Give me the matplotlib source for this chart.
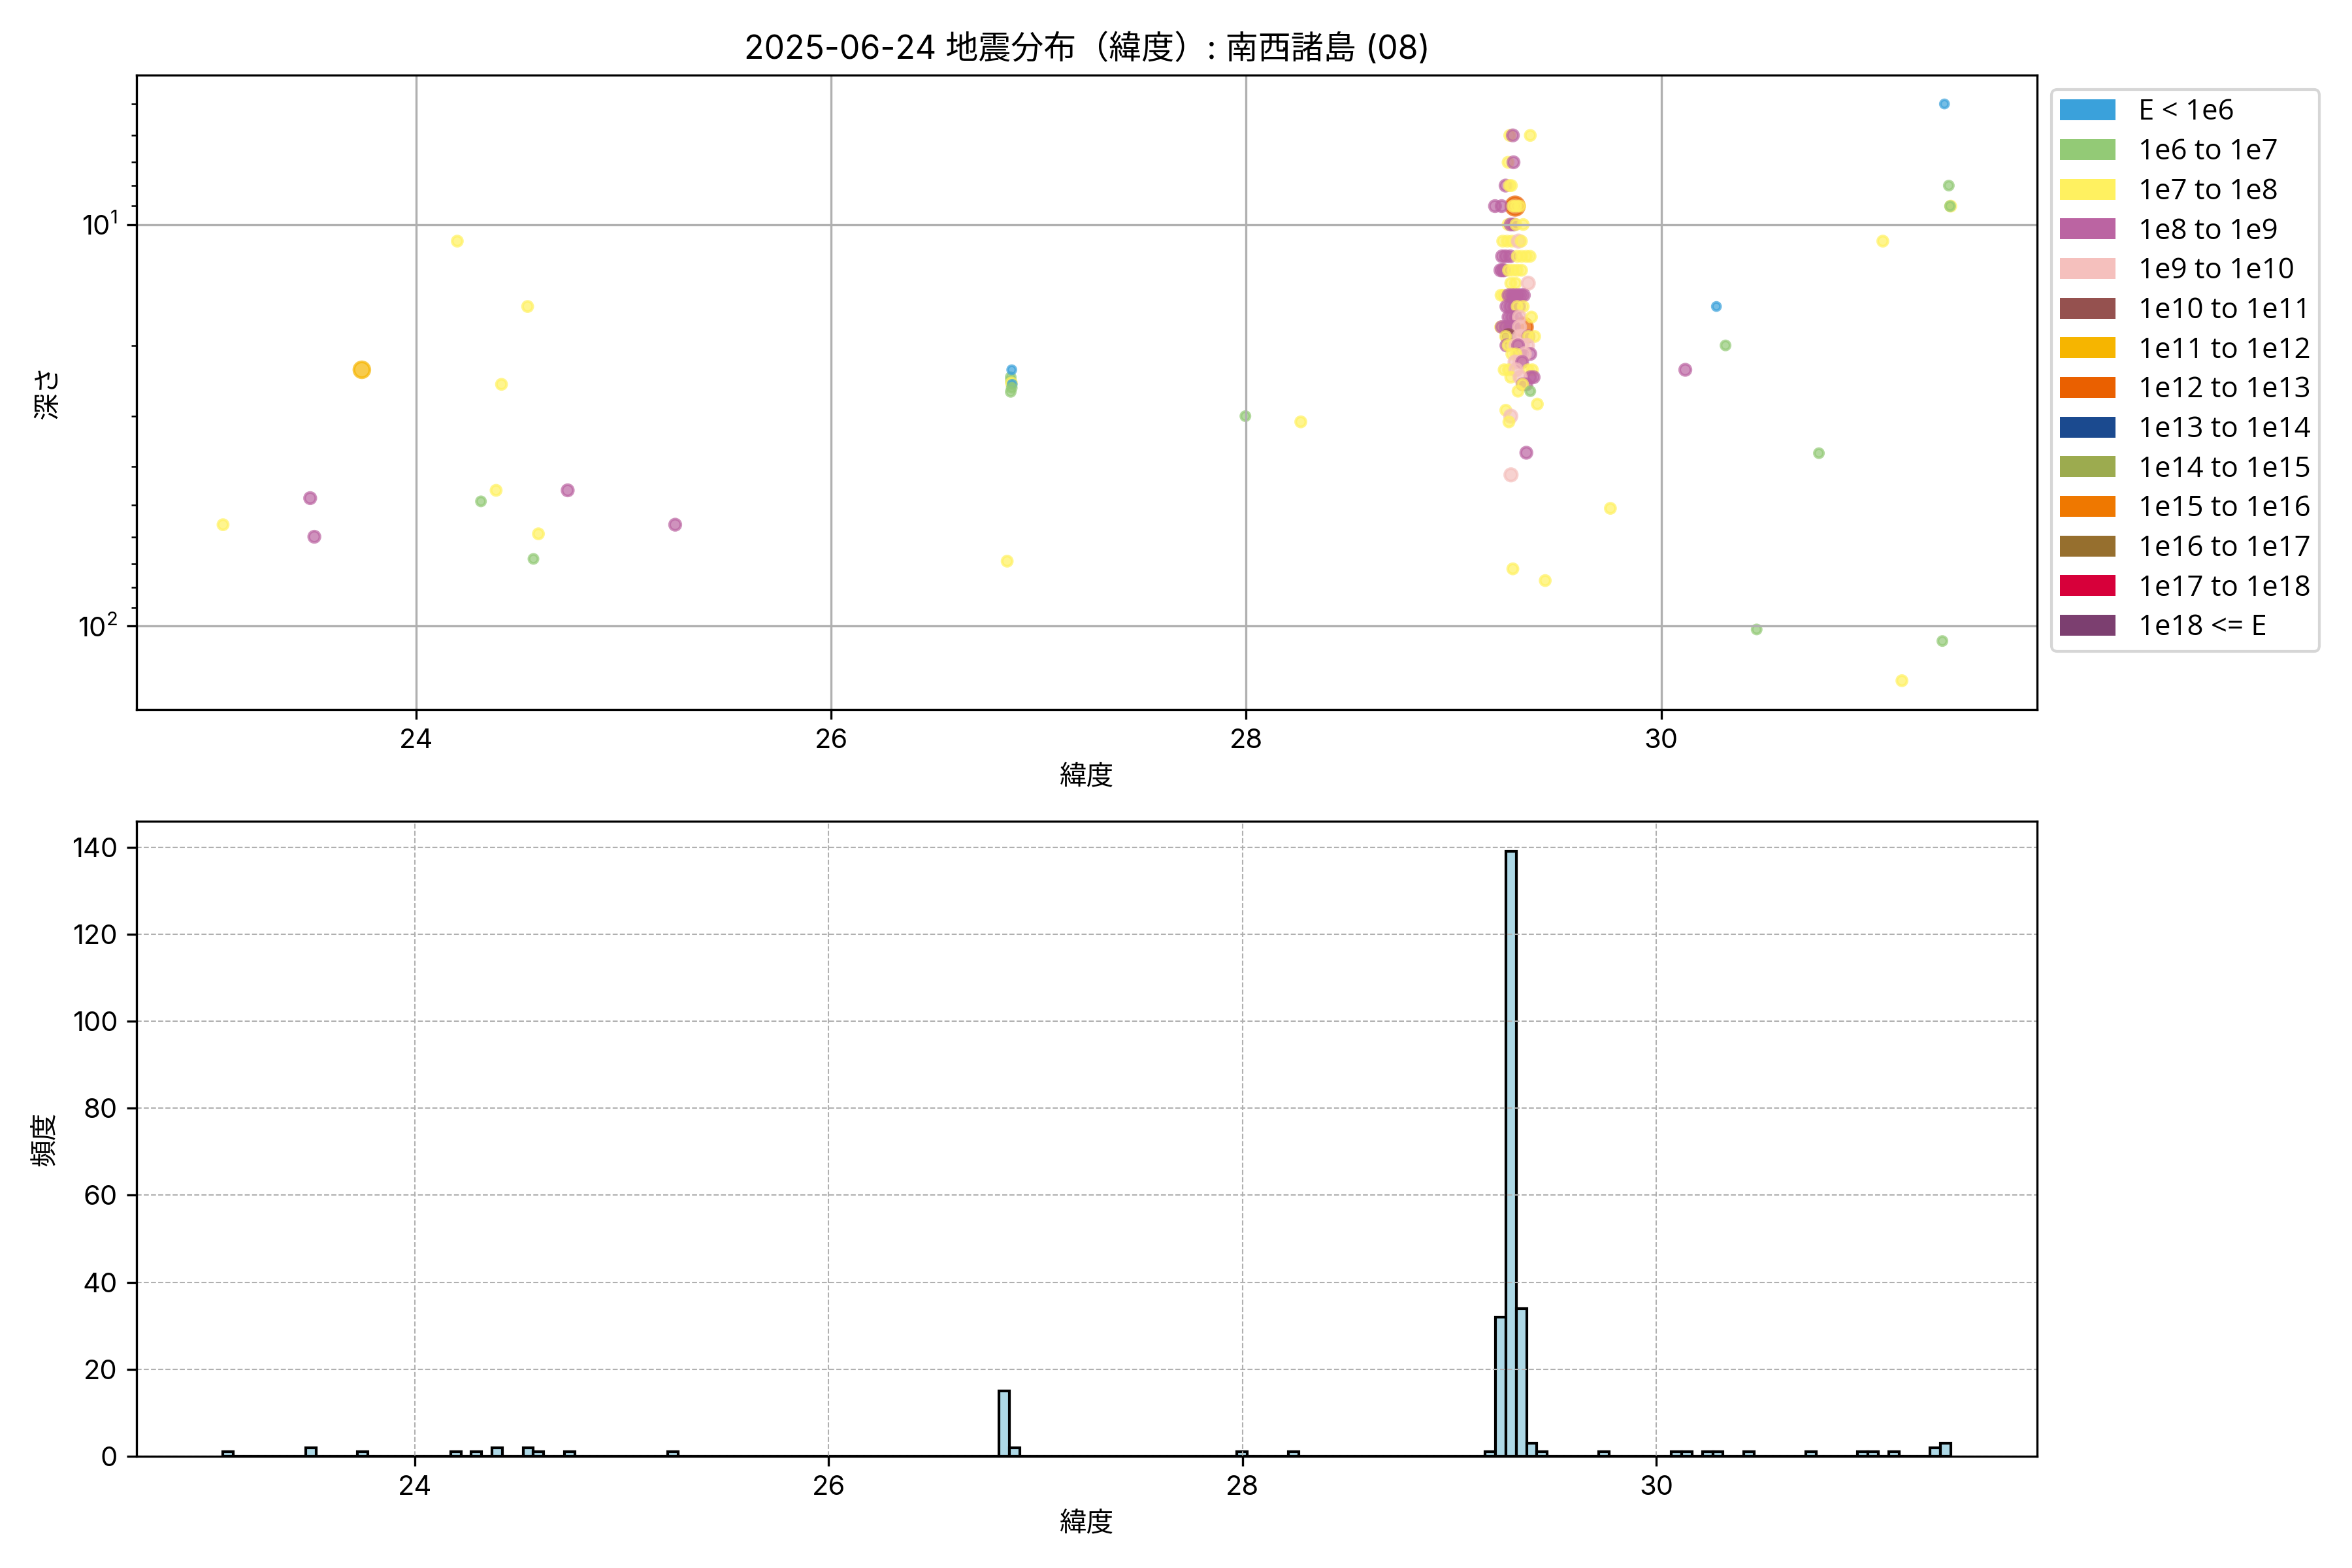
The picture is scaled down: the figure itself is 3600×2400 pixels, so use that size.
import numpy as np
import matplotlib
matplotlib.use('Agg')
import matplotlib.pyplot as plt
from matplotlib.patches import Patch

plt.rcParams['font.family'] = ['Inter', 'Noto Sans CJK JP', 'DejaVu Sans']
plt.rcParams['axes.unicode_minus'] = False

title = '2025-06-24 地震分布（緯度）: 南西諸島 (08)'
xlabel = '緯度'
ylabel_top = '深さ'
ylabel_bottom = '頻度'

class_labels = ['E < 1e6', '1e6 to 1e7', '1e7 to 1e8', '1e8 to 1e9', '1e9 to 1e10',
                '1e10 to 1e11', '1e11 to 1e12', '1e12 to 1e13', '1e13 to 1e14',
                '1e14 to 1e15', '1e15 to 1e16', '1e16 to 1e17', '1e17 to 1e18', '1e18 <= E']
class_colors = ['#3aa1db', '#93ca76', '#fff160', '#bb64a2', '#f5c0bd', '#95514f', '#f6b500',
                '#ea6000', '#1b4a8f', '#9cab4f', '#ef7800', '#966f2e', '#d7003a', '#7c3f70']
class_sizes = [9, 11, 14, 17, 21, 26, 34, 46, 55, 65, 75, 85, 95, 110]

# ---- scatter data: latitude, depth (km), energy class index ----
lat = [
    # west
    23.069, 23.489, 23.509, 23.738, 24.198, 24.537, 24.411, 24.385, 24.312, 24.730, 25.248, 24.589, 24.565,
    # 26.85 group
    26.848, 26.865, 26.870, 26.866, 26.868, 26.872, 26.865, 26.870,
    # 28
    27.996, 28.263,
    # main cluster
    29.296, 29.335,
    29.270, 29.285, 29.369,
    29.262, 29.288,
    29.250, 29.268, 29.278,
    29.199, 29.231, 29.285, 29.300, 29.318,
    29.262, 29.275, 29.290, 29.300, 29.335,
    29.236, 29.258, 29.280, 29.312, 29.326,
    29.233, 29.250, 29.272, 29.306, 29.327, 29.350, 29.368,
    29.225, 29.235, 29.243, 29.264, 29.285, 29.306, 29.327,
    29.275, 29.298, 29.359,
    29.228, 29.243, 29.264, 29.280, 29.295, 29.310, 29.325, 29.338, 29.290,
    29.254, 29.272, 29.292, 29.315, 29.306, 29.335,
    29.264, 29.280, 29.300, 29.317, 29.375,
    29.226, 29.232, 29.250, 29.272, 29.290, 29.317,
    29.264, 29.317, 29.330, 29.250, 29.360, 29.360, 29.390,
    29.254, 29.262, 29.285, 29.300, 29.330, 29.355, 29.310,
    29.317, 29.319, 29.369, 29.340, 29.280, 29.300,
    29.296, 29.320, 29.330,
    29.243, 29.264, 29.359, 29.379, 29.300,
    29.275, 29.385, 29.370, 29.320,
    29.332, 29.350, 29.332,
    29.310, 29.369,
    29.403, 29.251, 29.275, 29.266, 29.350, 29.276, 29.285, 29.441,
    # east
    29.755, 30.116, 30.266, 30.310, 30.760, 30.460, 31.068, 31.160,
    31.365, 31.355, 31.386, 31.395, 31.392,
]
depth = [
    55.9, 48.0, 59.9, 23.0, 11.0, 16.0, 25.0, 45.9, 48.9, 45.9, 55.9, 58.9, 68.0,
    68.9, 24.0, 23.0, 24.5, 24.8, 25.0, 26.1, 25.5,
    30.0, 31.0,
    9.0, 18.0,
    6.0, 6.0, 6.0,
    7.0, 7.0,
    8.0, 8.0, 8.0,
    9.0, 9.0, 9.0, 9.0, 9.0,
    10.0, 10.0, 10.0, 10.0, 10.0,
    11.0, 11.0, 11.0, 11.0, 11.0,
    12.0, 12.0, 12.0, 12.0, 12.0, 12.0, 12.0,
    13.0, 13.0, 13.0, 13.0, 13.0, 13.0, 13.0,
    14.0, 14.0, 14.0,
    15.0, 15.0, 15.0, 15.0, 15.0, 15.0, 15.0, 15.0, 15.2,
    16.0, 16.0, 16.0, 16.0, 16.0, 16.0,
    17.0, 17.0, 17.0, 17.0, 17.0,
    18.0, 18.0, 18.0, 18.0, 18.0, 18.0,
    19.0, 19.0, 19.0, 19.0, 19.0, 19.0, 19.0,
    20.0, 20.0, 20.0, 20.0, 20.0, 20.0, 20.0,
    21.0, 21.0, 21.0, 21.0, 21.0, 21.0,
    22.0, 22.0, 22.0,
    23.0, 23.0, 23.0, 23.0, 23.0,
    24.0, 24.0, 24.0, 24.0,
    25.0, 25.0, 25.0,
    26.0, 26.0,
    28.0, 29.0, 30.0, 31.0, 37.0, 42.0, 72.0, 77.0,
    50.9, 23.0, 16.0, 20.0, 37.1, 101.9, 11.0, 136.7,
    5.01, 108.9, 8.0, 9.0, 9.0,
]
ecls = [
    2, 3, 3, 6, 2, 2, 2, 2, 1, 3, 3, 2, 1,
    2, 1, 0, 1, 2, 0, 1, 1,
    1, 2,
    7, 7,
    2, 3, 2,
    2, 3,
    3, 2, 2,
    3, 3, 2, 2, 2,
    2, 3, 3, 2, 2,
    2, 2, 2, 4, 2,
    3, 3, 3, 2, 2, 2, 2,
    3, 3, 3, 2, 2, 2, 2,
    2, 2, 4,
    2, 2, 3, 3, 3, 3, 3, 3, 3,
    3, 3, 3, 3, 2, 2,
    3, 3, 3, 4, 2,
    2, 3, 3, 3, 3, 4,
    5, 4, 4, 2, 3, 2, 2,
    3, 2, 2, 4, 4, 4, 3,
    3, 3, 3, 4, 2, 2,
    4, 4, 3,
    2, 2, 2, 2, 4,
    2, 3, 3, 4,
    3, 3, 2,
    2, 1,
    2, 2, 4, 2, 3, 4, 2, 2,
    2, 3, 0, 1, 1, 1, 2, 2,
    0, 1, 1, 2, 1,
]

# ---- histogram data: bar latitude and count ----
bar_lat = [23.098, 23.498, 23.748, 24.198, 24.298, 24.398, 24.548, 24.598, 24.748, 25.248,
           26.848, 26.898, 27.998, 28.248,
           29.198, 29.248, 29.298, 29.348, 29.398, 29.448, 29.748,
           30.098, 30.148, 30.248, 30.298, 30.448, 30.748, 30.998, 31.048, 31.148, 31.348, 31.398]
bar_count = [1, 2, 1, 1, 1, 2, 2, 1, 1, 1,
             15, 2, 1, 1,
             1, 32, 139, 34, 3, 1, 1,
             1, 1, 1, 1, 1, 1, 1, 1, 1, 2, 3]
hist_start = 23.073
bin_width = 0.05
n_bins = 167

fig = plt.figure(figsize=(12, 8), dpi=300)
ax1 = fig.add_axes([0.0581, 0.5475, 0.808, 0.4046])
ax2 = fig.add_axes([0.0581, 0.07125, 0.808, 0.4050])

colors = [class_colors[c] for c in ecls]
sizes = [class_sizes[c] for c in ecls]
ax1.scatter(lat, depth, c=colors, s=sizes, alpha=0.7)
ax1.set_yscale('log')
ax1.invert_yaxis()
ax1.grid(True)
ax1.set_title(title, fontsize=12)
ax1.set_xlabel(xlabel)
ax1.set_ylabel(ylabel_top, labelpad=6.0)

handles = [Patch(facecolor=col, label=lab) for col, lab in zip(class_colors, class_labels)]
ax1.legend(handles=handles, loc='upper left', bbox_to_anchor=(1.0, 1.0),
           prop={'family': ['Open Sans', 'DejaVu Sans'], 'size': 10.5},
           labelspacing=0.37, borderpad=0.3, handlelength=1.95, handleheight=0.75)

edges = hist_start + bin_width * np.arange(n_bins + 1)
ax2.hist(bar_lat, bins=edges, weights=bar_count, color='lightblue', edgecolor='black', linewidth=1.0)
ax2.grid(True, linestyle='--', linewidth=0.5)
ax2.set_xlabel(xlabel)
ax2.set_ylabel(ylabel_bottom, labelpad=5.0)

fig.savefig('out.png', dpi=300)
